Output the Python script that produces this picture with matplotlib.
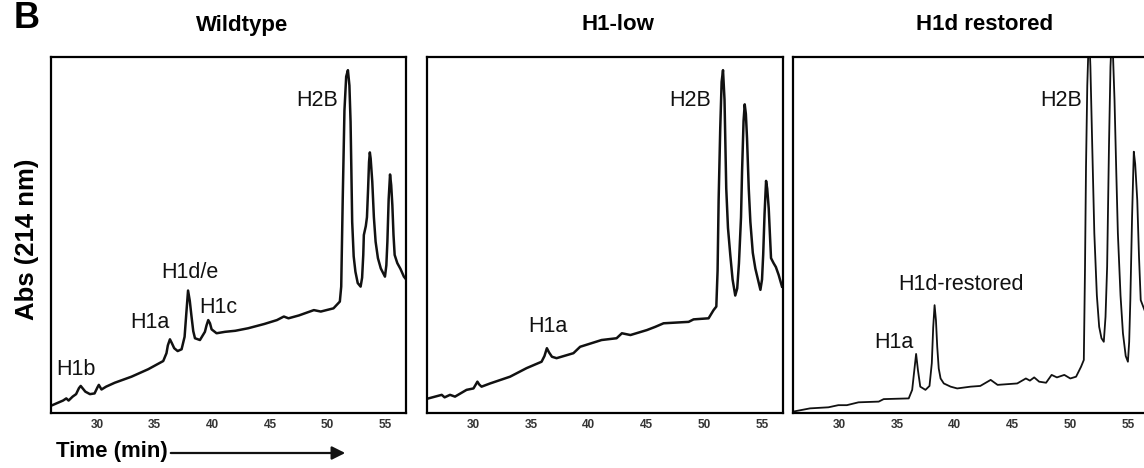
import matplotlib
matplotlib.use("Agg")
import matplotlib.pyplot as plt

plt.rcParams['font.family'] = ['Liberation Sans', 'DejaVu Sans']

# retention time (min) and absorbance (arbitrary units, 0-100 fills the box)
wt_t = [26.0, 27.07, 27.35, 27.55, 27.9, 28.2, 28.45, 28.6, 28.75, 29.0, 29.4, 29.8, 30.05,
        30.17, 30.4, 30.8, 31.55, 33.0, 34.45, 35.75, 36.03, 36.15, 36.33, 36.5, 36.7, 37.0,
        37.34, 37.6, 37.75, 37.9, 38.05, 38.2, 38.35, 38.5, 38.93, 39.36, 39.5, 39.65, 39.8,
        39.94, 40.37, 41.1, 42.0, 43.1, 44.5, 45.6, 46.2, 46.6, 47.5, 48.8, 49.4, 50.5, 51.05,
        51.17, 51.3, 51.45, 51.6, 51.75, 51.88, 51.98, 52.05, 52.12, 52.25, 52.4, 52.6, 52.85,
        52.98, 53.08, 53.13, 53.3, 53.4, 53.5, 53.58, 53.65, 53.72, 53.86, 54.0, 54.15, 54.35,
        54.6, 54.96, 55.08, 55.17, 55.28, 55.4, 55.5, 55.6, 55.7, 55.8, 56.03, 56.3, 56.6, 56.8]
wt_abs = [2.0, 3.5, 4.1, 3.5, 4.6, 5.3, 7.0, 7.6, 7.0, 6.0, 5.3, 5.5, 7.2,
          7.9, 6.6, 7.4, 8.5, 10.2, 12.3, 14.6, 16.8, 19.0, 20.7, 19.6, 18.2, 17.4,
          17.9, 21.4, 28.0, 34.4, 31.5, 27.1, 23.0, 21.0, 20.5, 22.8, 24.6, 26.1, 25.2,
          23.5, 22.4, 22.8, 23.1, 23.8, 25.0, 26.1, 27.1, 26.6, 27.4, 28.9, 28.5, 29.4, 31.3,
          35.5, 60.0, 85.0, 94.5, 96.3, 92.0, 81.8, 68.0, 53.7, 44.0, 39.7, 36.5, 35.5,
          38.0, 44.4, 50.0, 52.5, 55.0, 63.1, 70.5, 73.2, 71.5, 65.0, 55.0, 48.1, 43.5,
          40.6, 38.3, 41.5, 48.1, 60.0, 67.0, 64.0, 58.4, 50.0, 44.4, 42.1, 40.5, 38.3, 37.5]

low_t = [26.1, 27.25, 27.5, 27.97, 28.4, 29.4, 30.0, 30.2, 30.34, 30.5, 30.7, 31.44, 33.17,
         34.6, 35.9, 36.15, 36.36, 36.55, 36.8, 37.2, 38.66, 39.24, 41.1, 42.4, 42.86, 43.6,
         45.03, 45.75, 46.47, 48.64, 49.07, 50.37, 50.8, 51.04, 51.15, 51.24, 51.38, 51.5,
         51.62, 51.75, 51.9, 52.05, 52.25, 52.45, 52.68, 52.85, 53.0, 53.06, 53.18, 53.27,
         53.4, 53.5, 53.6, 53.7, 53.85, 53.99, 54.2, 54.42, 54.86, 55.0, 55.1, 55.22, 55.35,
         55.45, 55.58, 55.7, 55.78, 56.0, 56.2, 56.44, 56.73]
low_abs = [4.1, 5.1, 4.4, 5.1, 4.6, 6.5, 6.9, 8.0, 8.8, 8.0, 7.4, 8.3, 10.2,
           12.6, 14.4, 16.0, 18.2, 17.0, 15.8, 15.4, 16.8, 18.6, 20.5, 21.0, 22.4, 21.9,
           23.3, 24.2, 25.2, 25.6, 26.3, 26.6, 28.9, 29.9, 40.0, 59.8, 80.0, 93.0,
           96.3, 88.0, 63.1, 52.0, 44.4, 37.5, 33.0, 35.0, 42.0, 46.3, 55.0, 67.8,
           82.0, 86.7, 84.0, 77.2, 63.0, 53.7, 45.0, 40.6, 34.6, 37.5, 44.4, 56.0, 65.2,
           63.0, 57.5, 49.0, 43.5, 42.1, 41.0, 38.8, 35.5]

res_t = [26.0, 27.45, 29.04, 29.9, 30.64, 31.65, 33.4, 33.83, 36.0, 36.3, 36.45, 36.64, 36.8,
         37.0, 37.45, 37.8, 38.0, 38.12, 38.24, 38.36, 38.47, 38.6, 38.76, 39.04, 39.63, 40.2,
         41.36, 42.2, 43.1, 43.7, 45.4, 46.15, 46.5, 46.87, 47.3, 47.9, 48.38, 48.84, 49.48,
         50.0, 50.5, 50.93, 51.17, 51.27, 51.36, 51.47, 51.62, 51.74, 51.9, 52.08, 52.3, 52.5,
         52.7, 52.9, 53.05, 53.19, 53.35, 53.48, 53.62, 53.83, 53.98, 54.12, 54.35, 54.56,
         54.8, 54.99, 55.1, 55.2, 55.35, 55.5, 55.62, 55.8, 55.95, 56.1, 56.43, 56.8]
res_abs = [0.4, 1.3, 1.6, 2.2, 2.2, 3.0, 3.2, 3.9, 4.1, 6.5, 11.0, 16.6, 12.0,
           7.4, 6.5, 7.6, 14.0, 24.0, 30.3, 26.0, 18.6, 12.5, 9.7, 8.3, 7.4, 6.9,
           7.4, 7.6, 9.3, 7.9, 8.3, 9.7, 9.1, 10.0, 8.8, 8.5, 10.7, 10.0, 10.7,
           9.7, 10.2, 13.0, 14.9, 40.0, 69.2, 92.0, 108.0, 97.3, 75.0, 50.5, 33.0, 24.2,
           21.0, 20.0, 27.0, 41.1, 75.0, 97.3, 108.0, 87.9, 68.0, 50.5, 33.0, 22.4,
           16.0, 14.4, 20.0, 31.7, 55.0, 73.4, 70.0, 59.8, 44.0, 31.7, 28.9, 26.0]

panels = ["Wildtype", "H1-low", "H1d restored"]
traces = [(wt_t, wt_abs), (low_t, low_abs), (res_t, res_abs)]
peak_labels = [
    [("H2B", 49.1, 87.9), ("H1d/e", 38.09, 39.6), ("H1c", 40.52, 29.5),
     ("H1a", 34.62, 25.3), ("H1b", 28.2, 12.1)],
    [("H2B", 48.78, 87.9), ("H1a", 36.47, 24.2)],
    [("H2B", 49.19, 87.9), ("H1d-restored", 40.54, 36.0), ("H1a", 34.75, 19.7)],
]
xticks = [30, 35, 40, 45, 50, 55]

W, H = 1144, 468
fig = plt.figure(figsize=(W / 100, H / 100), dpi=100)
lefts = [50.7, 427.3, 793.3]
lws = [1.8, 1.8, 1.3]

for i in range(3):
    ax = fig.add_axes([lefts[i] / W, 55 / H, 355.5 / W, 356 / H])
    t, a = traces[i]
    ax.plot(t, a, color="#111111", lw=lws[i], solid_joinstyle="round")
    ax.set_xlim(26, 56.8)
    ax.set_ylim(0, 100)
    ax.set_yticks([])
    ax.set_xticks(xticks)
    ax.tick_params(axis="x", length=0, pad=4, labelsize=8.5, labelcolor="#333333")
    for lab in ax.get_xticklabels():
        lab.set_fontweight("bold")
    for s in ax.spines.values():
        s.set_linewidth(1.6)
    for txt, x, y in peak_labels[i]:
        ax.text(x, y, txt, fontsize=15.5, ha="center", va="center", color="#111111")
    fig.text((lefts[i] + 191) / W, 1 - 25 / H, panels[i], fontsize=16,
             fontweight="bold", ha="center", va="center")

fig.text(27 / W, 1 - 18 / H, "B", fontsize=26, fontweight="bold", ha="center", va="center")
fig.text(27 / W, 1 - 239 / H, "Abs (214 nm)", fontsize=18.5, fontweight="bold",
         rotation=90, ha="center", va="center")
fig.text(56 / W, 1 - 452 / H, "Time (min)", fontsize=16, fontweight="bold",
         ha="left", va="center")
fig.patches.append(matplotlib.patches.FancyArrowPatch(
    (168 / W, 1 - 453 / H), (348 / W, 1 - 453 / H), transform=fig.transFigure,
    arrowstyle="-|>,head_length=8,head_width=4", lw=1.6, color="#111111"))

fig.savefig("out.png", dpi=100)
